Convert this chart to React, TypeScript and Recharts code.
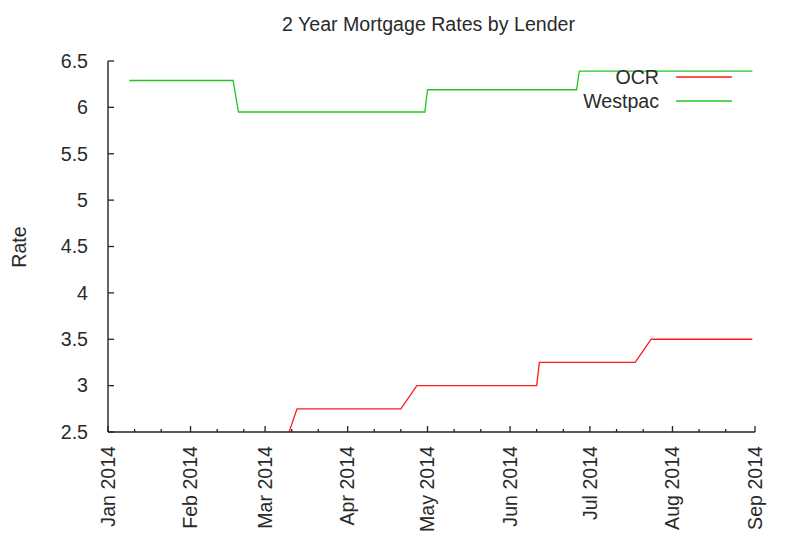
import React from "react";
import { LineChart, Line, XAxis, YAxis, Legend } from "recharts";

const day = (s: string) => Date.parse(s + "T00:00:00Z");

// axis ticks
const monthStarts = [
  "2014-01-01", "2014-02-01", "2014-03-01", "2014-04-01", "2014-05-01",
  "2014-06-01", "2014-07-01", "2014-08-01", "2014-09-01",
];
const monthLabels = [
  "Jan 2014", "Feb 2014", "Mar 2014", "Apr 2014", "May 2014",
  "Jun 2014", "Jul 2014", "Aug 2014", "Sep 2014",
];
const minorTicks = [
  "2014-01-11", "2014-01-21", "2014-02-11", "2014-02-21", "2014-03-11", "2014-03-21",
  "2014-04-11", "2014-04-21", "2014-05-11", "2014-05-21", "2014-06-11", "2014-06-21",
  "2014-07-11", "2014-07-21", "2014-08-11", "2014-08-21",
];
const rateTicks = [2.5, 3, 3.5, 4, 4.5, 5, 5.5, 6, 6.5];

// series
const ocrDates = [
  "2014-03-10", "2014-03-13", "2014-04-21", "2014-04-27", "2014-06-11",
  "2014-06-12", "2014-07-18", "2014-07-24", "2014-08-31",
];
const ocrRates = [2.5, 2.75, 2.75, 3.0, 3.0, 3.25, 3.25, 3.5, 3.5];

const westpacDates = [
  "2014-01-09", "2014-02-17", "2014-02-19", "2014-04-30", "2014-05-01",
  "2014-06-26", "2014-06-27", "2014-08-31",
];
const westpacRates = [6.29, 6.29, 5.95, 5.95, 6.19, 6.19, 6.39, 6.39];

const ocrData = ocrDates.map((d, i) => ({ t: day(d), rate: ocrRates[i] }));
const westpacData = westpacDates.map((d, i) => ({ t: day(d), rate: westpacRates[i] }));

const majorT = monthStarts.map(day);
const allTicks = [...majorT, ...minorTicks.map(day)].sort((a, b) => a - b);
const xDomain = [majorT[0], majorT[majorT.length - 1]];

const AXIS = "#222";
const TEXT = "#2a2a2a";
const FONT = 19.6;

const BottomTick = (props: any) => {
  const { x, y, payload } = props;
  const idx = majorT.indexOf(payload.value);
  const major = idx >= 0;
  const ty = y + 14;
  return (
    <g>
      <line x1={x} x2={x} y1={y} y2={y - (major ? 6 : 3)} stroke={AXIS} strokeWidth={1.3} />
      {major && (
        <text
          x={x}
          y={ty}
          dy="0.35em"
          textAnchor="end"
          transform={`rotate(-90 ${x} ${ty})`}
          fill={TEXT}
          fontSize={FONT}
        >
          {monthLabels[idx]}
        </text>
      )}
    </g>
  );
};

const TopTick = (props: any) => {
  const { x, y, payload } = props;
  const major = majorT.indexOf(payload.value) >= 0;
  return <line x1={x} x2={x} y1={y} y2={y + (major ? 6 : 3)} stroke={AXIS} strokeWidth={1.3} />;
};

const LeftTick = (props: any) => {
  const { x, y, payload } = props;
  return (
    <g>
      <line x1={x} x2={x + 6} y1={y} y2={y} stroke={AXIS} strokeWidth={1.3} />
      <text x={x - 20} y={y} dy="0.35em" textAnchor="end" fill={TEXT} fontSize={FONT}>
        {String(payload.value)}
      </text>
    </g>
  );
};

const RightTick = (props: any) => {
  const { x, y } = props;
  return <line x1={x} x2={x - 6} y1={y} y2={y} stroke={AXIS} strokeWidth={1.3} />;
};

const renderLegend = (props: any) => {
  const { payload } = props;
  return (
    <div>
      {(payload || []).map((e: any) => (
        <div key={e.value} style={{ display: "flex", alignItems: "center", height: 24 }}>
          <span style={{ width: 100, textAlign: "right", color: TEXT, fontSize: FONT, lineHeight: "24px" }}>
            {e.value}
          </span>
          <svg width={74} height={24}>
            <line x1={17} x2={73} y1={12} y2={12} stroke={e.color} strokeWidth={1.3} />
          </svg>
        </div>
      ))}
    </div>
  );
};

export default function App() {
  return (
    <div
      style={{
        position: "absolute",
        left: 0,
        top: 0,
        width: 800,
        height: 556,
        background: "#fff",
        fontFamily: "'Liberation Sans', Arial, sans-serif",
      }}
    >
      <div
        style={{
          position: "absolute",
          left: 0,
          width: 857,
          top: 15,
          textAlign: "center",
          fontSize: FONT,
          lineHeight: "19px",
          color: TEXT,
        }}
      >
        2 Year Mortgage Rates by Lender
      </div>
      <div
        style={{
          position: "absolute",
          left: 18.5,
          top: 246.5,
          transform: "translate(-50%, -50%) rotate(-90deg)",
          fontSize: FONT,
          lineHeight: "19px",
          color: TEXT,
          whiteSpace: "nowrap",
        }}
      >
        Rate
      </div>
      <LineChart width={800} height={556} margin={{ top: 61, right: 45, bottom: 0, left: 0 }}>
        <XAxis
          dataKey="t"
          type="number"
          domain={xDomain}
          ticks={allTicks}
          interval={0}
          height={124}
          tickSize={0}
          tickMargin={0}
          tickLine={false}
          tick={BottomTick}
          axisLine={{ stroke: AXIS, strokeWidth: 1.4 }}
          allowDataOverflow
        />
        <XAxis
          xAxisId="top"
          orientation="top"
          dataKey="t"
          type="number"
          domain={xDomain}
          ticks={allTicks}
          interval={0}
          height={0}
          tickSize={0}
          tickMargin={0}
          tickLine={false}
          tick={TopTick}
          axisLine={{ stroke: AXIS, strokeWidth: 1.4 }}
          allowDataOverflow
        />
        <YAxis
          type="number"
          domain={[2.5, 6.5]}
          ticks={rateTicks}
          interval={0}
          width={108}
          tickSize={0}
          tickMargin={0}
          tickLine={false}
          tick={LeftTick}
          axisLine={{ stroke: AXIS, strokeWidth: 1.4 }}
          allowDataOverflow
        />
        <YAxis
          yAxisId="right"
          orientation="right"
          type="number"
          domain={[2.5, 6.5]}
          ticks={rateTicks}
          interval={0}
          width={0}
          tickSize={0}
          tickMargin={0}
          tickLine={false}
          tick={RightTick}
          axisLine={{ stroke: AXIS, strokeWidth: 1.4 }}
          allowDataOverflow
        />
        <Legend
          layout="horizontal"
          verticalAlign="middle"
          align="center"
          content={renderLegend}
          wrapperStyle={{ left: 559, top: 65, width: 180 }}
        />
        <Line
          name="OCR"
          data={ocrData}
          dataKey="rate"
          type="linear"
          stroke="#ff1a1a"
          strokeWidth={1.3}
          dot={false}
          isAnimationActive={false}
        />
        <Line
          name="Westpac"
          data={westpacData}
          dataKey="rate"
          type="linear"
          stroke="#1ec81e"
          strokeWidth={1.3}
          dot={false}
          isAnimationActive={false}
        />
      </LineChart>
    </div>
  );
}
